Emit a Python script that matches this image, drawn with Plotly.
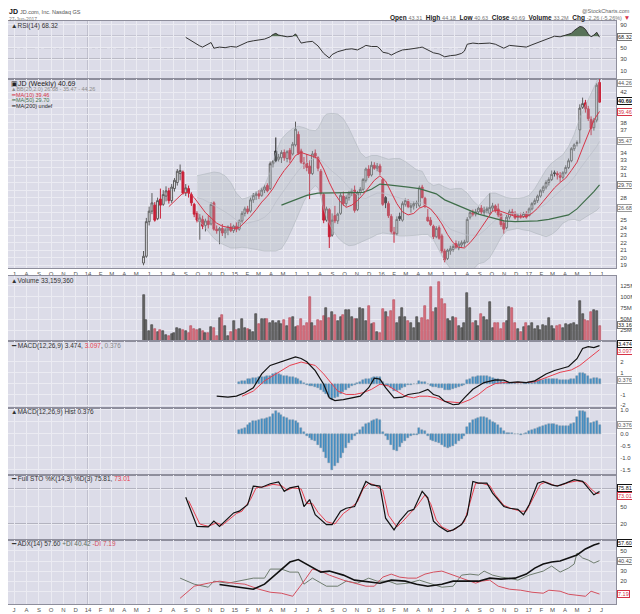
import pandas as pd
import plotly.graph_objects as go
from plotly.subplots import make_subplots

# weekly bars, JD.com, chart dated 27-Jun-2017
first_week = "2014-05-19"
n_weeks = 163
dates = list(pd.date_range(first_week, periods=n_weeks, freq="7D"))

opens = [19.3, 20.2, 24.8, 26.2, 27.0, 25.2, 27.8, 27.1, 28.2, 28.9,
         27.6, 29.2, 30.0, 31.2, 31.4, 28.6, 29.2, 28.4, 27.1, 25.9,
         24.8, 25.1, 24.3, 24.9, 24.5, 27.3, 23.8, 23.6, 23.9, 23.3,
         23.7, 24.1, 23.6, 24.2, 23.8, 24.9, 25.9, 26.5, 26.2, 27.7,
         28.3, 28.5, 28.3, 29.0, 29.6, 29.2, 32.5, 34.2, 33.1, 33.3,
         34.0, 33.2, 34.3, 33.8, 35.0, 36.4, 34.2, 32.6, 32.6, 32.2,
         31.2, 33.9, 33.3, 31.5, 28.4, 25.0, 26.4, 23.0, 25.6, 24.9,
         25.9, 28.2, 27.2, 28.0, 28.6, 29.0, 26.4, 28.7, 29.1, 30.3,
         31.8, 31.0, 32.3, 31.9, 32.2, 30.4, 28.0, 27.2, 25.5, 23.4,
         23.2, 25.5, 25.0, 27.1, 27.5, 26.7, 26.9, 27.2, 26.9, 29.4,
         27.9, 25.4, 25.0, 24.2, 22.8, 24.0, 22.9, 20.9, 19.9, 20.9,
         21.1, 21.9, 21.3, 21.7, 21.9, 22.1, 25.4, 26.0, 25.8, 26.1,
         26.6, 26.0, 26.3, 25.9, 26.6, 26.9, 26.5, 25.8, 24.6, 24.0,
         25.4, 26.1, 25.9, 25.4, 25.6, 25.5, 25.9, 25.6, 26.5, 27.2,
         27.6, 28.2, 28.9, 29.4, 30.0, 30.4, 31.3, 31.2, 30.9, 30.7,
         31.3, 32.0, 32.9, 34.5, 35.2, 37.0, 40.0, 40.6, 39.8, 38.4,
         37.3, 38.3, 43.31]
highs = [20.9, 25.3, 26.8, 28.6, 27.4, 28.0, 29.2, 29.0, 29.5, 29.3,
         29.8, 30.6, 31.8, 32.4, 31.6, 29.8, 29.6, 28.7, 27.3, 26.2,
         25.8, 25.6, 25.2, 25.6, 27.4, 27.5, 24.3, 24.1, 24.5, 24.0,
         24.3, 24.6, 24.4, 24.7, 25.1, 26.2, 26.8, 26.9, 28.0, 28.6,
         28.8, 29.0, 29.3, 29.7, 29.9, 32.8, 33.0, 36.0, 33.8, 34.3,
         34.4, 34.3, 34.6, 35.4, 38.1, 36.8, 34.5, 33.4, 33.8, 33.0,
         34.2, 34.4, 33.5, 31.8, 28.6, 26.8, 26.6, 25.9, 26.9, 26.0,
         28.6, 28.8, 28.3, 28.9, 29.2, 29.6, 28.9, 29.4, 30.6, 32.0,
         32.3, 32.8, 32.7, 32.6, 32.5, 30.6, 28.2, 27.5, 25.8, 24.1,
         25.5, 26.0, 27.5, 27.9, 27.8, 27.3, 27.5, 27.6, 29.6, 29.7,
         28.1, 26.5, 25.4, 24.4, 24.2, 24.3, 23.2, 21.2, 21.2, 21.6,
         21.8, 22.3, 22.2, 22.3, 22.4, 25.4, 26.2, 26.4, 26.5, 26.8,
         27.0, 26.8, 26.8, 28.6, 27.3, 27.1, 27.2, 26.0, 25.0, 25.7,
         26.4, 26.5, 26.2, 25.9, 26.0, 26.1, 26.2, 26.7, 27.4, 27.9,
         28.4, 29.1, 29.6, 30.3, 30.7, 31.6, 31.6, 31.5, 31.4, 31.5,
         32.3, 33.2, 34.7, 35.2, 35.6, 40.4, 41.3, 41.0, 40.2, 38.8,
         38.6, 43.2, 44.18]
lows = [19.0, 20.0, 24.3, 25.8, 24.8, 25.0, 25.2, 26.9, 27.5, 27.2,
        27.3, 28.8, 29.6, 30.3, 28.4, 28.2, 28.0, 26.9, 25.4, 24.7,
        22.4, 23.8, 23.5, 23.9, 24.3, 23.6, 23.2, 21.8, 22.9, 22.6,
        23.0, 23.4, 23.3, 23.4, 23.6, 24.6, 25.5, 25.8, 26.0, 27.3,
        27.7, 27.8, 28.1, 28.6, 28.7, 29.0, 32.0, 32.7, 32.8, 32.6,
        32.9, 32.7, 32.6, 33.6, 34.8, 33.7, 32.5, 31.8, 31.5, 27.8,
        31.0, 33.2, 31.5, 28.3, 24.6, 24.8, 21.3, 22.8, 24.6, 24.5,
        25.7, 26.9, 26.8, 27.6, 28.2, 26.0, 26.2, 28.3, 28.9, 30.0,
        30.6, 30.8, 31.7, 31.5, 31.0, 26.9, 26.6, 25.3, 23.2, 22.0,
        23.0, 24.9, 24.8, 26.8, 26.6, 26.0, 26.4, 26.6, 26.7, 27.9,
        26.6, 24.8, 24.2, 22.5, 22.6, 22.4, 20.6, 19.4, 19.7, 20.4,
        20.8, 21.2, 21.0, 21.3, 21.4, 22.0, 25.1, 25.5, 25.5, 25.8,
        25.8, 25.6, 25.9, 25.7, 26.2, 26.0, 25.4, 24.1, 23.2, 23.8,
        25.1, 25.6, 25.1, 24.9, 25.2, 25.3, 25.2, 25.5, 26.3, 27.0,
        27.3, 28.0, 28.6, 29.1, 29.6, 30.2, 30.8, 30.4, 30.1, 30.4,
        31.1, 31.8, 32.7, 34.2, 34.8, 35.2, 39.8, 39.3, 38.2, 36.3,
        36.9, 38.0, 40.63]
closes = [20.2, 24.8, 26.2, 27.3, 25.0, 27.6, 27.0, 28.4, 28.9, 27.6,
          29.4, 30.3, 31.5, 31.6, 28.6, 29.3, 28.6, 27.3, 25.8, 25.0,
          25.3, 24.2, 24.9, 24.4, 27.1, 23.8, 23.6, 23.9, 23.3, 23.7,
          24.1, 23.6, 24.2, 23.8, 24.9, 25.9, 26.5, 26.1, 27.7, 28.3,
          28.5, 28.2, 29.0, 29.4, 28.9, 32.5, 32.8, 32.9, 33.4, 34.0,
          33.3, 34.1, 33.1, 35.1, 37.1, 33.9, 32.7, 32.5, 32.0, 31.2,
          33.8, 33.5, 31.9, 28.6, 25.0, 26.5, 22.8, 25.0, 24.9, 25.8,
          28.3, 27.2, 28.0, 28.6, 28.9, 26.3, 28.6, 29.1, 30.4, 31.8,
          30.9, 32.3, 31.9, 32.2, 31.4, 27.1, 27.3, 25.6, 23.5, 23.1,
          25.1, 25.2, 27.2, 27.6, 26.8, 26.9, 27.2, 27.3, 29.3, 28.0,
          26.9, 24.9, 24.4, 22.8, 23.9, 22.6, 20.9, 19.7, 21.0, 21.2,
          21.5, 21.4, 21.8, 22.0, 22.1, 25.1, 26.0, 25.8, 26.1, 26.6,
          26.1, 26.3, 26.5, 26.7, 26.9, 26.3, 25.7, 24.4, 23.8, 25.4,
          26.1, 25.8, 25.3, 25.6, 25.5, 25.9, 25.4, 26.5, 27.2, 27.6,
          28.2, 28.9, 29.4, 30.0, 30.4, 31.1, 31.2, 31.0, 30.7, 31.3,
          32.0, 32.9, 34.5, 35.0, 35.3, 39.9, 40.5, 39.8, 38.5, 37.2,
          38.2, 42.95, 40.69]
volume_m = [105, 48, 22, 36, 27, 20, 26, 23, 14, 12,
            17, 18, 30, 27, 25, 22, 18, 35, 27, 25,
            28, 22, 18, 18, 32, 30, 12, 52, 60, 35,
            12, 20, 45, 25, 28, 49, 30, 28, 25, 20,
            62, 38, 50, 50, 50, 40, 45, 42, 45, 38,
            47, 35, 52, 55, 32, 35, 50, 35, 42, 100,
            42, 35, 48, 45, 56, 75, 52, 65, 58, 45,
            55, 60, 70, 70, 55, 50, 50, 76, 72, 45,
            80, 38, 42, 20, 18, 72, 67, 55, 68, 93,
            40, 55, 75, 55, 45, 42, 30, 55, 42, 52,
            80, 48, 122, 65, 75, 135, 95, 85, 50, 45,
            55, 52, 35, 30, 42, 110, 75, 40, 45, 35,
            62, 55, 47, 88, 30, 40, 42, 28, 42, 45,
            78, 75, 42, 28, 20, 32, 40, 35, 40, 28,
            33, 25, 37, 35, 52, 35, 28, 35, 37, 30,
            38, 37, 38, 40, 36, 92, 62, 48, 45, 65,
            70, 68, 33.16]

# overlays (week index, value)
bb_wk = [19, 21, 23, 25, 27, 29, 31, 33, 35, 37, 39, 41, 43, 45, 47, 49, 51, 53, 55, 57,
         59, 61, 62, 63, 64, 65, 67, 69, 71, 73, 75, 77, 79, 81, 83, 85, 87, 89, 91, 93,
         95, 97, 99, 101, 103, 105, 107, 109, 111, 113, 115, 117, 119, 121, 123, 125, 127,
         129, 131, 133, 135, 137, 139, 141, 143, 145, 147, 149, 151, 153, 155, 157, 159, 161, 162]
bb_upper = [30.9, 31.1, 31.3, 31.4, 31.3, 30.9, 30.0, 28.6, 27.8, 28.0, 28.4, 29.0, 29.6, 31.4,
            34.0, 35.8, 36.6, 37.2, 37.5, 37.3, 37.0, 36.9, 37.2, 37.9, 38.7, 39.1, 39.2, 39.1,
            38.5, 37.2, 35.6, 34.0, 33.3, 33.6, 33.6, 33.4, 33.1, 33.2, 33.2, 32.8, 32.2, 31.7,
            31.5, 30.1, 29.6, 29.8, 29.4, 29.1, 29.2, 29.2, 28.6, 27.6, 26.9, 27.8, 28.6, 28.6,
            28.3, 28.0, 27.9, 27.9, 28.0, 28.3, 29.2, 30.5, 31.7, 32.6, 33.2, 33.7, 34.8, 36.4,
            38.6, 40.2, 41.7, 43.3, 44.26]
bb_mid = [28.0, 27.8, 27.4, 27.0, 26.6, 26.1, 25.6, 25.0, 24.6, 24.6, 24.8, 25.0, 25.4, 26.1,
          27.4, 28.5, 29.5, 30.6, 31.6, 32.4, 32.9, 33.3, 33.2, 33.0, 32.6, 32.2, 31.5, 30.9,
          30.2, 29.3, 28.6, 28.0, 27.9, 28.2, 28.6, 28.6, 28.4, 28.2, 28.0, 27.8, 27.5, 27.3,
          27.3, 26.8, 26.0, 25.4, 24.5, 23.8, 23.5, 23.2, 23.0, 23.0, 23.0, 23.6, 24.3, 25.0,
          25.5, 25.8, 25.9, 25.9, 25.8, 25.9, 26.2, 26.7, 27.2, 27.9, 28.5, 29.2, 29.9, 30.7,
          31.8, 32.8, 33.8, 34.8, 35.47]
bb_lower = [25.1, 24.4, 23.5, 22.6, 22.0, 21.6, 21.3, 21.3, 21.4, 21.3, 21.2, 21.0, 20.9, 20.9,
            20.9, 21.2, 22.4, 24.0, 25.7, 27.5, 28.8, 29.6, 29.3, 28.1, 26.5, 25.3, 23.8, 22.7,
            22.0, 21.6, 21.7, 22.0, 22.4, 22.7, 23.1, 23.3, 23.2, 23.0, 22.9, 22.9, 22.9, 23.0,
            23.1, 23.1, 22.4, 21.0, 19.6, 18.6, 17.8, 17.6, 17.8, 18.4, 19.2, 19.4, 20.0, 21.3,
            22.7, 23.6, 23.8, 23.9, 23.7, 23.6, 23.3, 23.0, 22.8, 23.1, 23.7, 24.6, 25.0, 25.1,
            24.9, 25.4, 25.9, 26.3, 26.68]
ma10_wk = [9, 12, 14, 16, 18, 20, 22, 24, 26, 28, 30, 32, 34, 36, 38, 40, 42, 44, 46, 48,
           50, 52, 54, 56, 58, 60, 62, 64, 66, 68, 70, 72, 74, 76, 78, 80, 82, 84, 86, 88,
           90, 92, 94, 96, 98, 100, 102, 104, 106, 108, 110, 112, 114, 116, 118, 120, 122,
           124, 126, 128, 130, 132, 134, 136, 138, 140, 142, 144, 146, 148, 150, 152, 154,
           156, 158, 160, 162]
ma10 = [26.8, 27.8, 28.6, 28.7, 28.0, 27.0, 26.0, 25.3, 24.6, 24.2, 24.0, 23.9, 24.0, 24.7,
        25.5, 26.4, 27.4, 28.2, 29.2, 30.5, 31.6, 32.5, 33.6, 34.0, 33.8, 33.5, 33.2, 31.8,
        30.0, 28.5, 27.4, 26.7, 27.0, 27.6, 28.4, 29.3, 30.3, 30.9, 30.2, 28.7, 27.2, 26.1,
        25.7, 25.9, 26.6, 26.9, 26.5, 25.6, 24.5, 23.1, 22.0, 21.4, 21.3, 22.0, 22.9, 24.0,
        25.1, 26.2, 26.3, 26.0, 25.8, 25.5, 25.4, 25.5, 25.9, 26.6, 27.5, 28.4, 29.3, 30.0,
        30.6, 31.6, 32.7, 34.6, 36.5, 38.3, 39.46]
ma50_wk = [49, 52, 55, 58, 62, 66, 70, 74, 78, 81, 84, 87, 90, 94, 98, 101, 104, 107, 110,
           113, 116, 119, 122, 125, 128, 132, 136, 140, 144, 148, 151, 154, 157, 160, 162]
ma50 = [27.0, 27.4, 27.9, 28.3, 28.6, 28.6, 28.6, 28.6, 28.7, 29.1, 29.8, 29.7, 29.6, 29.4,
        29.2, 28.9, 28.5, 27.7, 27.2, 26.8, 26.3, 25.8, 25.5, 25.2, 24.9, 24.8, 24.8, 24.9,
        25.1, 25.4, 25.7, 26.5, 27.6, 28.8, 29.70]

# indicator panels (week index, value)
rsi_wk = [15, 17, 18, 20, 21, 22, 24, 25, 27, 29, 31, 33, 35, 37, 39, 41, 43, 45, 46, 47,
          48, 49, 51, 53, 54, 55, 56, 58, 60, 62, 63, 64, 66, 67, 69, 71, 72, 74, 76, 78,
          79, 81, 83, 84, 85, 87, 88, 90, 92, 94, 96, 98, 99, 101, 103, 105, 107, 109, 111,
          113, 114, 115, 117, 119, 121, 123, 125, 127, 128, 130, 132, 134, 136, 138, 140,
          142, 144, 146, 148, 150, 152, 153, 155, 156, 157, 158, 159, 160, 161, 162]
rsi = [68, 62, 58, 53, 51, 54, 59, 49, 51, 50, 52, 51, 56, 60, 62, 63, 65, 69, 73, 75,
       72, 71, 69, 70, 74, 66, 58, 60, 61, 53, 46, 40, 32, 38, 43, 46, 47, 48, 46, 51,
       54, 52, 52, 48, 42, 40, 37, 42, 46, 47, 48, 50, 51, 46, 41, 39, 34, 36, 37, 40,
       44, 56, 58, 57, 57, 58, 56, 52, 49, 54, 53, 53, 51, 55, 59, 63, 66, 70, 69, 72,
       75, 80, 87, 86, 82, 74, 69, 72, 77, 68.32]
macd_wk = [26, 30, 33, 36, 39, 42, 45, 48, 51, 54, 56, 58, 61, 64, 66, 68, 71, 74, 77, 80,
           82, 84, 86, 89, 92, 94, 98, 101, 103, 105, 107, 110, 112, 114, 117, 121, 125,
           128, 130, 133, 136, 139, 143, 146, 148, 151, 154, 156, 158, 160, 162]
macd = [-1.16, -1.25, -1.15, -0.84, -0.38, 0.88, 1.66, 1.9, 2.15, 2.44, 2.3, 2.0, 1.19,
        -0.06, -1.31, -1.56, -1.47, -1.31, -1.16, -0.38, 0.5, 0.41, -0.38, -1.31, -1.25,
        -1.0, -0.84, -0.53, -1.0, -1.16, -1.63, -1.94, -1.88, -1.31, -0.53, 0.09, 0.34,
        0.31, 0.09, 0.16, 0.09, 0.25, 0.88, 1.2, 1.34, 1.56, 2.28, 3.22, 3.38, 3.3, 3.474]
signal_wk = [35, 39, 43, 48, 52, 56, 61, 64, 67, 69, 72, 75, 78, 81, 84, 87, 90, 93, 96, 98,
             101, 104, 107, 110, 113, 116, 119, 122, 125, 128, 130, 133, 136, 139, 143, 148,
             152, 155, 158, 161, 162]
signal = [-1.16, -0.69, 0.25, 1.03, 1.66, 1.97, 1.66, 0.88, -0.06, -0.69, -1.0, -1.0, -0.84,
          -0.53, -0.06, -0.22, -0.69, -1.16, -1.31, -1.16, -1.16, -1.31, -1.63, -1.72, -1.78,
          -1.47, -1.0, -0.38, 0.0, 0.09, 0.09, 0.09, 0.09, 0.16, 0.56, 1.03, 1.25, 1.66, 2.28,
          2.9, 3.097]
hist_first_week = 34
macd_hist = [0.18, 0.22, 0.27, 0.38, 0.46, 0.53, 0.55, 0.58, 0.61, 0.62,
             0.66, 0.7, 0.85, 0.94, 0.88, 0.8, 0.72, 0.66, 0.6, 0.58,
             0.53, 0.45, 0.25, 0.08, -0.1, -0.18, -0.24, -0.3, -0.45, -0.6,
             -0.75, -1.0, -1.2, -1.49, -1.35, -1.2, -1.0, -0.8, -0.6, -0.37,
             -0.25, -0.1, 0.05, 0.18, 0.3, 0.4, 0.46, 0.55, 0.6, 0.62,
             0.58, 0.1, -0.1, -0.24, -0.45, -0.65, -0.72, -0.55, -0.37, -0.28,
             -0.17, -0.1, -0.05, -0.03, 0.25, 0.18, 0.11, -0.08, -0.24, -0.28,
             -0.33, -0.37, -0.45, -0.55, -0.58, -0.55, -0.51, -0.42, -0.31, -0.2,
             -0.1, 0.3, 0.46, 0.58, 0.64, 0.67, 0.7, 0.71, 0.66, 0.6,
             0.52, 0.45, 0.39, 0.25, 0.11, 0.04, 0.03, 0.05, 0.01, -0.02,
             -0.04, 0.02, 0.06, 0.11, 0.16, 0.2, 0.25, 0.3, 0.35, 0.39,
             0.4, 0.42, 0.42, 0.38, 0.34, 0.32, 0.33, 0.35, 0.4, 0.46,
             0.7, 0.94, 0.97, 0.9, 0.67, 0.46, 0.5, 0.53, 0.376]
stok_wk = [15, 19, 23, 25, 27, 30, 32, 34, 37, 39, 42, 45, 48, 50, 52, 55, 57, 59, 61, 65,
           67, 70, 72, 75, 77, 79, 81, 84, 86, 89, 91, 94, 96, 99, 101, 103, 105, 108, 110,
           113, 115, 117, 119, 122, 124, 128, 130, 133, 135, 137, 140, 142, 145, 147, 150,
           153, 156, 158, 160, 162]
stok = [66, 16, 15, 25, 16, 30, 39, 42, 53, 85, 83, 89, 92, 76, 82, 85, 50, 62, 36, 19,
        19, 42, 47, 50, 73, 93, 87, 85, 30, 10, 25, 42, 45, 76, 65, 25, 16, 7, 10, 19,
        36, 93, 90, 90, 73, 50, 47, 45, 36, 53, 90, 93, 87, 85, 90, 96, 93, 82, 70, 75.81]
stod_wk = [16, 20, 23, 26, 28, 30, 33, 35, 38, 40, 43, 46, 49, 51, 53, 56, 58, 60, 62, 65,
           68, 71, 73, 76, 78, 80, 82, 85, 87, 90, 92, 95, 97, 100, 102, 104, 106, 109, 111,
           114, 116, 118, 120, 123, 125, 128, 131, 134, 136, 138, 141, 143, 146, 148, 151,
           154, 157, 159, 161, 162]
stod = [60, 20, 16, 22, 18, 26, 38, 42, 62, 82, 84, 88, 86, 78, 82, 80, 55, 55, 40, 24,
        20, 38, 45, 58, 80, 90, 87, 78, 35, 15, 24, 40, 50, 70, 55, 27, 15, 8, 12, 24,
        55, 90, 90, 86, 70, 52, 46, 42, 42, 60, 88, 92, 86, 86, 91, 94, 91, 80, 72, 73.01]
adx_wk = [27, 33, 39, 43, 48, 52, 55, 59, 63, 66, 71, 75, 80, 84, 88, 93, 97, 101, 106, 110,
          114, 119, 123, 127, 132, 136, 139, 142, 145, 148, 151, 154, 157, 160, 162]
adx = [16.7, 14, 12, 17, 29, 39, 41.5, 35, 29, 30, 26, 21, 19, 18, 21, 20, 17, 15, 17, 20,
       20, 20, 23, 22, 23, 27, 33, 37, 39, 40, 43, 46, 52, 56, 57.6]
pdi_wk = [13, 18, 23, 25, 30, 36, 39, 43, 45, 49, 52, 55, 57, 60, 65, 69, 72, 76, 80, 83,
          87, 90, 94, 98, 103, 106, 110, 113, 116, 119, 121, 124, 127, 130, 133, 137, 142,
          145, 148, 151, 153, 154, 156, 158, 160, 162]
pdi = [23, 17, 14, 20, 18, 21, 23, 23, 32, 32, 29, 29, 17, 23, 15, 15, 20, 18, 23, 20,
       20, 17, 18, 21, 17, 14, 15, 26, 27, 26, 30, 26, 24, 23, 21, 26, 30, 35, 29, 33,
       37, 48, 43, 41, 38, 40.42]
mdi_wk = [13, 18, 23, 27, 32, 36, 41, 45, 49, 53, 57, 60, 63, 66, 71, 75, 79, 82, 85, 88,
          91, 94, 97, 100, 103, 106, 109, 112, 115, 118, 120, 123, 126, 130, 134, 138, 142,
          144, 148, 151, 154, 157, 159, 162]
mdi = [3, 15, 18, 20, 18, 17, 12, 9, 8, 5, 20, 32, 30, 26, 21, 18, 15, 15, 24, 27,
       24, 23, 23, 27, 29, 30, 27, 24, 21, 18, 20, 21, 15, 12, 11, 9, 8, 11, 10, 7,
       6, 5, 10, 7.19]

month_letters = "JFMAMJJASOND"
price_ticks = list(range(19, 43))
price_hidden = [26, 27, 29, 30, 35, 36, 39, 40, 41]   # sit under the value boxes

FONT = "Liberation Sans, Arial, sans-serif"
BG = "#dcdce8"
GRID = "#ebebf2"
BORDER = "#8e8e9c"
RED = "#d63447"
GREEN = "#3f6e4a"

# the page body adds an 8px margin, so the figure is laid out in page pixels:
# plot area spans x 8..616 and y 20..604 of the page
PLOT_L, PLOT_W, PLOT_B, PLOT_H = 8, 608, 604, 584


def wx(weeks):
    return [dates[k] for k in weeks]


def px(x):
    return (x - PLOT_L) / PLOT_W


def py(y):
    return (PLOT_B - y) / PLOT_H


fig = make_subplots(rows=7, cols=1, shared_xaxes=True, vertical_spacing=0)

# RSI
rsi_x = wx(rsi_wk)
fig.add_trace(go.Scatter(x=rsi_x, y=[70] * len(rsi), mode="lines", line=dict(width=0),
                         hoverinfo="skip"), row=1, col=1)
fig.add_trace(go.Scatter(x=rsi_x, y=[max(v, 70) for v in rsi], mode="lines",
                         line=dict(width=0), fill="tonexty", fillcolor="#587258"), row=1, col=1)
fig.add_trace(go.Scatter(x=rsi_x, y=rsi, mode="lines", line=dict(color="#333", width=1)),
              row=1, col=1)

# price panel
bb_x = wx(bb_wk)
fig.add_trace(go.Scatter(x=bb_x, y=bb_lower, mode="lines",
                         line=dict(color="#b0b7bd", width=0.6)), row=2, col=1)
fig.add_trace(go.Scatter(x=bb_x, y=bb_upper, mode="lines", fill="tonexty",
                         fillcolor="rgba(172,182,188,0.34)",
                         line=dict(color="#b0b7bd", width=0.6)), row=2, col=1)
fig.add_trace(go.Scatter(x=bb_x, y=bb_mid, mode="lines",
                         line=dict(color="#bcc0ca", width=0.8)), row=2, col=1)
fig.add_trace(go.Scatter(x=wx(ma50_wk), y=ma50, mode="lines",
                         line=dict(color=GREEN, width=1.2)), row=2, col=1)
fig.add_trace(go.Scatter(x=wx(ma10_wk), y=ma10, mode="lines",
                         line=dict(color=RED, width=1)), row=2, col=1)

up = [i == 0 or closes[i] >= closes[i - 1] for i in range(n_weeks)]
for flag, inc, dec in [(True, ("#5c5c5c", "#ececf2"), ("#1c1c1c", "#1c1c1c")),
                       (False, (RED, "#f3dce1"), ("#c81f36", "#c81f36"))]:
    idx = [i for i in range(n_weeks) if up[i] == flag]
    fig.add_trace(go.Candlestick(
        x=[dates[i] for i in idx], open=[opens[i] for i in idx],
        high=[highs[i] for i in idx], low=[lows[i] for i in idx],
        close=[closes[i] for i in idx], whiskerwidth=0,
        increasing=dict(line=dict(color=inc[0], width=1), fillcolor=inc[1]),
        decreasing=dict(line=dict(color=dec[0], width=1), fillcolor=dec[1])),
        row=2, col=1)

# volume
bar_w = 7 * 86400000 * 0.72
fig.add_trace(go.Bar(x=dates, y=volume_m, width=bar_w,
                     marker=dict(color=["#676767" if u else "#d9707e" for u in up],
                                 line=dict(color=["#3c3c3c" if u else "#b24a59" for u in up],
                                           width=0.6))), row=3, col=1)

# MACD
hist_x = dates[hist_first_week:]
hist_style = dict(color="#3b8dc6", line=dict(color="#8796a6", width=0.5))
fig.add_trace(go.Bar(x=hist_x, y=macd_hist, width=bar_w, marker=hist_style), row=4, col=1)
fig.add_trace(go.Scatter(x=wx(signal_wk), y=signal, mode="lines",
                         line=dict(color="#e8404f", width=1)), row=4, col=1)
fig.add_trace(go.Scatter(x=wx(macd_wk), y=macd, mode="lines",
                         line=dict(color="#111", width=1.2)), row=4, col=1)
fig.add_trace(go.Bar(x=hist_x, y=macd_hist, width=bar_w, marker=hist_style), row=5, col=1)

# Full stochastics
fig.add_trace(go.Scatter(x=wx(stod_wk), y=stod, mode="lines",
                         line=dict(color="#e8404f", width=1)), row=6, col=1)
fig.add_trace(go.Scatter(x=wx(stok_wk), y=stok, mode="lines",
                         line=dict(color="#111", width=1.2)), row=6, col=1)

# ADX
fig.add_trace(go.Scatter(x=wx(pdi_wk), y=pdi, mode="lines",
                         line=dict(color="#6f7d6f", width=1)), row=7, col=1)
fig.add_trace(go.Scatter(x=wx(mdi_wk), y=mdi, mode="lines",
                         line=dict(color="#d4505f", width=1)), row=7, col=1)
fig.add_trace(go.Scatter(x=wx(adx_wk), y=adx, mode="lines",
                         line=dict(color="#111", width=1.6)), row=7, col=1)

# panel placement in page pixels (top, bottom)
panels = [(20.5, 79), (79, 268), (276, 341), (341, 408), (408, 475), (475, 540), (540, 604)]
for i, (top, bottom) in enumerate(panels, start=1):
    fig.layout["yaxis" if i == 1 else f"yaxis{i}"].domain = [py(bottom), min(1.0, py(top))]

month_ticks = list(pd.date_range("2013-07-01", "2017-07-01", freq="MS"))
month_text = [f"{d.year % 100:02d}" if d.month == 1 else month_letters[d.month - 1]
              for d in month_ticks]

fig.update_xaxes(range=["2013-06-16", "2017-08-06"], tickvals=month_ticks, ticktext=month_text,
                 showgrid=True, gridcolor=GRID, gridwidth=1, showline=True, mirror=True,
                 linecolor=BORDER, linewidth=1, ticks="", showticklabels=False,
                 tickfont=dict(size=6, color="#555", family=FONT), rangeslider_visible=False)
fig.update_xaxes(showticklabels=True, row=2, col=1)
fig.update_xaxes(showticklabels=True, row=7, col=1)

fig.update_yaxes(side="right", showgrid=True, gridcolor=GRID, gridwidth=1, showline=True,
                 mirror=True, linecolor=BORDER, linewidth=1, ticks="", zeroline=False,
                 tickfont=dict(size=6, color="#444", family=FONT), ticklabelstandoff=2)
fig.update_yaxes(range=[-4.8, 97.5], tickvals=[10, 30, 50, 70, 90],
                 ticktext=["10", "30", "50", "", "90"], row=1, col=1)
fig.update_yaxes(range=[18.64, 43.77], tickvals=price_ticks,
                 ticktext=["" if t in price_hidden else str(t) for t in price_ticks],
                 row=2, col=1)
fig.update_yaxes(range=[0, 147.7], tickvals=[25, 50, 75, 100, 125],
                 ticktext=["25M", "50M", "75M", "100M", "125M"], row=3, col=1)
fig.update_yaxes(range=[-2.24, 3.9], tickvals=[-2, -1, 0, 1, 2],
                 ticktext=["-2", "-1", "", "1", "2"], row=4, col=1)
fig.update_yaxes(range=[-1.71, 1.083], tickvals=[-1.5, -1, -0.5, 0, 0.5, 1],
                 ticktext=["-1.5", "-1.0", "-0.5", "0.0", "", "1.0"], row=5, col=1)
fig.update_yaxes(range=[-7.4, 104], tickvals=[20, 50, 80],
                 ticktext=["20", "50", ""], row=6, col=1)
fig.update_yaxes(range=[-2.7, 60.9], tickvals=[10, 20, 30, 40, 50],
                 ticktext=["", "20", "30", "", "50"], row=7, col=1)

for year in ["2014-01-01", "2015-01-01", "2016-01-01", "2017-01-01"]:
    fig.add_vline(x=year, line_color="#a3a3b3", line_width=1, layer="below")
for level, dash in [(70, "solid"), (30, "solid"), (50, "dashdot")]:
    fig.add_hline(y=level, line_color="#8a8a96", line_width=1, line_dash=dash,
                  layer="below", row=1, col=1)
for level, dash in [(80, "solid"), (20, "solid"), (50, "dashdot")]:
    fig.add_hline(y=level, line_color="#8a8a96", line_width=1, line_dash=dash,
                  layer="below", row=6, col=1)


def note(x, y, text, size=6, color="#333", anchor="left"):
    return dict(xref="paper", yref="paper", x=px(x), y=py(y), xanchor=anchor,
                yanchor="middle", text=text, showarrow=False, borderpad=0,
                font=dict(size=size, color=color, family=FONT))


def tag(text, yref, y, border, color="#222"):
    return dict(xref="paper", x=1, xanchor="left", xshift=1, yref=yref, y=y,
                yanchor="middle", text=text, showarrow=False,
                font=dict(size=5.5, color=color, family=FONT), bgcolor="white",
                bordercolor=border, borderwidth=1, borderpad=0)


val = "<span style='color:#777;font-size:5.5px'>{}</span>"
notes = [
    note(8, 12.0, "<b>JD</b> <span style='font-size:5.5px;color:#555'>JD.com, Inc. Nasdaq GS</span>",
         size=7, color="#111"),
    note(8, 19.3, "27-Jun-2017", size=5, color="#777"),
    note(631, 11.2, "@StockCharts.com", size=5.5, color="#666", anchor="right"),
    note(631, 18.4,
         "<b>Open</b> " + val.format("43.31") + "  <b>High</b> " + val.format("44.18") +
         "  <b>Low</b> " + val.format("40.63") + "  <b>Close</b> " + val.format("40.69") +
         "  <b>Volume</b> " + val.format("33.2M") + "  <b>Chg</b> " +
         val.format("-2.26 (-5.26%)") + f" <span style='color:{RED}'>▼</span>",
         size=6.5, color="#222", anchor="right"),
    note(10, 26.2, "▲RSI(14) 68.32", size=6.5, color="#333"),
    note(10, 83.5, "▣JD (Weekly) 40.69", size=7, color="#222"),
    note(10, 89, "▲BB(20,2.0) 26.68 - 35.47 - 44.26", size=5.5, color="#8c8c8c"),
    note(10, 94.7, "━MA(10) 39.46", size=5.5, color=RED),
    note(10, 100.3, "━MA(50) 29.70", size=5.5, color=GREEN),
    note(10, 106, "━MA(200) undef", size=5.5, color="#222"),
    note(10, 280.5, "▲Volume 33,159,360", size=6.5, color="#333"),
    note(10, 346, "━ MACD(12,26,9) 3.474, <span style='color:#e8404f'>3.097</span>, "
         "<span style='color:#888'>0.376</span>", size=6.5, color="#333"),
    note(10, 412, "▲MACD(12,26,9) Hist 0.376", size=6.5, color="#333"),
    note(10, 479, "━ Full STO %K(14,3) %D(3) 75.81, <span style='color:#e8404f'>73.01</span>",
         size=6.5, color="#333"),
    note(10, 544, "━ ADX(14) 57.60 <span style='color:#5d6d5d'>+DI 40.42</span> "
         "<span style='color:#d4505f'>-DI 7.19</span>", size=6.5, color="#333"),
    tag("68.32", "y", 68.32, "#777"),
    tag("44.26", "y2", 43.2, "#999", "#555"),
    tag("<b>40.69</b>", "y2", 40.8, "#111", "#111"),
    tag("39.46", "y2", 39.35, RED, RED),
    tag("35.47", "y2", 35.47, "#999", "#555"),
    tag("29.70", "y2", 29.70, "#888", "#444"),
    tag("26.68", "y2", 26.68, "#999", "#555"),
    tag("33.16M", "y3", 36, "#777"),
    tag("0.376", "y4", 0.3, "#999", "#555"),
    tag("3.097", "y4", 2.95, RED, RED),
    tag("3.474", "y4", 3.62, "#111", "#111"),
    tag("0.376", "y5", 0.376, "#999", "#555"),
    tag("73.01", "y6", 68.5, RED, RED),
    tag("75.81", "y6", 81, "#111", "#111"),
    tag("57.60", "y7", 57.6, "#111", "#111"),
    tag("40.42", "y7", 40.42, "#888", "#444"),
    tag("7.19", "y7", 7.19, RED, RED),
]

fig.update_layout(
    width=640, height=614,
    margin=dict(l=0, r=32, t=12, b=18),
    paper_bgcolor="white", plot_bgcolor=BG,
    showlegend=False, bargap=0, boxgap=0.05,
    font=dict(family=FONT, size=6, color="#333"),
    annotations=notes,
)

fig.write_html("out.html")
